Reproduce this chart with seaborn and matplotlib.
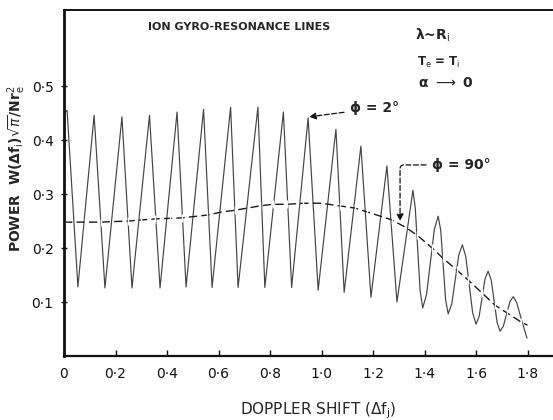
import matplotlib
matplotlib.use("Agg")
import matplotlib.pyplot as plt
import seaborn as sns
import pandas as pd

# --- data -------------------------------------------------------------
# phi = 2 deg resonance curve: turning points (plus shoulders where the
# oscillation becomes rounded at large Doppler shift)
phi2_shift = [0.000, 0.012, 0.054, 0.117, 0.159, 0.225, 0.264, 0.332, 0.373,
              0.439, 0.474, 0.542, 0.575, 0.647, 0.676, 0.753, 0.780, 0.852,
              0.884, 0.948, 0.987, 1.056, 1.088, 1.153, 1.192, 1.254, 1.293,
              1.355, 1.364, 1.383, 1.393, 1.408, 1.438, 1.453, 1.463, 1.482,
              1.492, 1.506, 1.533, 1.547, 1.560, 1.587, 1.600, 1.612, 1.635,
              1.647, 1.659, 1.682, 1.693, 1.706, 1.732, 1.745, 1.758, 1.775,
              1.798]
phi2_power = [0.450, 0.455, 0.128, 0.446, 0.126, 0.443, 0.126, 0.446, 0.126,
              0.452, 0.128, 0.457, 0.127, 0.461, 0.127, 0.461, 0.127, 0.452,
              0.127, 0.441, 0.122, 0.420, 0.118, 0.389, 0.109, 0.352, 0.100,
              0.307, 0.275, 0.121, 0.089, 0.114, 0.234, 0.259, 0.233, 0.104,
              0.078, 0.097, 0.187, 0.206, 0.185, 0.080, 0.059, 0.073, 0.143,
              0.157, 0.141, 0.062, 0.046, 0.055, 0.101, 0.110, 0.099, 0.070,
              0.033]

# phi = 90 deg envelope (dashed, tick-marked)
phi90_shift = [0.000, 0.080, 0.144, 0.190, 0.250, 0.300, 0.354, 0.410, 0.460,
               0.555, 0.614, 0.664, 0.760, 0.810, 0.866, 0.930, 1.000, 1.072,
               1.130, 1.177, 1.274, 1.324, 1.371, 1.430, 1.472, 1.526, 1.569,
               1.623, 1.674, 1.720, 1.775, 1.800]
phi90_power = [0.248, 0.248, 0.248, 0.249, 0.250, 0.252, 0.254, 0.255, 0.256,
               0.261, 0.267, 0.270, 0.278, 0.281, 0.281, 0.283, 0.283, 0.278,
               0.274, 0.267, 0.252, 0.239, 0.224, 0.200, 0.181, 0.159, 0.141,
               0.117, 0.094, 0.080, 0.063, 0.057]

x_ticks = [0.0, 0.2, 0.4, 0.6, 0.8, 1.0, 1.2, 1.4, 1.6, 1.8]
x_tick_labels = ["0", "0·2", "0·4", "0·6", "0·8", "1·0", "1·2", "1·4", "1·6", "1·8"]
y_ticks = [0.1, 0.2, 0.3, 0.4, 0.5]
y_tick_labels = ["0·1", "0·2", "0·3", "0·4", "0·5"]

phi2 = pd.DataFrame({"shift": phi2_shift, "power": phi2_power})
phi90 = pd.DataFrame({"shift": phi90_shift, "power": phi90_power})

# --- figure -----------------------------------------------------------
sns.set_style("ticks")
plt.rcParams["font.family"] = ["DejaVu Sans"]
plt.rcParams["mathtext.fontset"] = "dejavusans"

fig = plt.figure(figsize=(5.53, 4.20), dpi=100)
ax = fig.add_axes([64 / 553, 64 / 420, 489 / 553, 346 / 420])

sns.lineplot(data=phi2, x="shift", y="power", sort=False, estimator=None,
             color="#444444", lw=0.85, ax=ax)
sns.lineplot(data=phi90, x="shift", y="power", sort=False, estimator=None,
             color="#1a1a1a", lw=1.0, ax=ax, marker="|", markersize=6,
             markeredgewidth=1.0, dashes=False, linestyle=(0, (6, 3)))

ax.set_xlim(0, 1.899)
ax.set_ylim(0, 0.641)
ax.set_xticks(x_ticks)
ax.set_xticklabels(x_tick_labels)
ax.set_yticks(y_ticks)
ax.set_yticklabels(y_tick_labels)
ax.tick_params(axis="x", direction="in", length=4, width=1, pad=8,
               labelsize=10, colors="#111111")
ax.tick_params(axis="y", direction="inout", length=5, width=1, pad=5,
               labelsize=10, colors="#111111")

for side, lw in (("left", 2.0), ("bottom", 1.6), ("top", 1.4)):
    ax.spines[side].set_linewidth(lw)
    ax.spines[side].set_color("#111111")
ax.spines["right"].set_visible(False)

ax.set_xlabel(r"DOPPLER SHIFT ($\Delta$f$_{\rm j}$)", fontsize=11)
ax.xaxis.set_label_coords(0.519, -0.128)
ax.set_ylabel(r"POWER  W($\mathbf{\Delta}$f$_{\rm i}$)$\sqrt{\pi}$/Nr$_{\rm e}^{2}$",
              fontsize=10, fontweight="bold")
ax.yaxis.set_label_coords(-0.074, 0.543)

# --- annotations ------------------------------------------------------
ax.text(0.326, 0.609, "ION GYRO-RESONANCE LINES", fontsize=8,
        fontweight="bold", ha="left", va="center")
ax.text(1.363, 0.594, r"λ~R$_{\rm i}$", fontsize=10, fontweight="bold",
        ha="left", va="center")
ax.text(1.371, 0.544, r"T$_{\rm e}$ = T$_{\rm i}$", fontsize=8.5,
        fontweight="bold", ha="left", va="center")
ax.text(1.375, 0.506, r"α $\longrightarrow$ 0", fontsize=10,
        fontweight="bold", ha="left", va="center")

ax.annotate("ϕ = 2°", xy=(0.952, 0.443), xytext=(1.111, 0.459),
            fontsize=10, fontweight="bold", ha="left", va="center",
            arrowprops=dict(arrowstyle="-|>", lw=0.9, color="#111111",
                            linestyle=(0, (4, 2)), shrinkA=2, shrinkB=0,
                            mutation_scale=10))
ax.annotate("ϕ = 90°", xy=(1.305, 0.250), xytext=(1.429, 0.354),
            fontsize=10, fontweight="bold", ha="left", va="center",
            arrowprops=dict(arrowstyle="-|>", lw=0.9, color="#111111",
                            linestyle=(0, (4, 2)), shrinkA=2, shrinkB=0,
                            mutation_scale=10,
                            connectionstyle="angle,angleA=180,angleB=90,rad=4"))

fig.savefig("out.png", dpi=100)
